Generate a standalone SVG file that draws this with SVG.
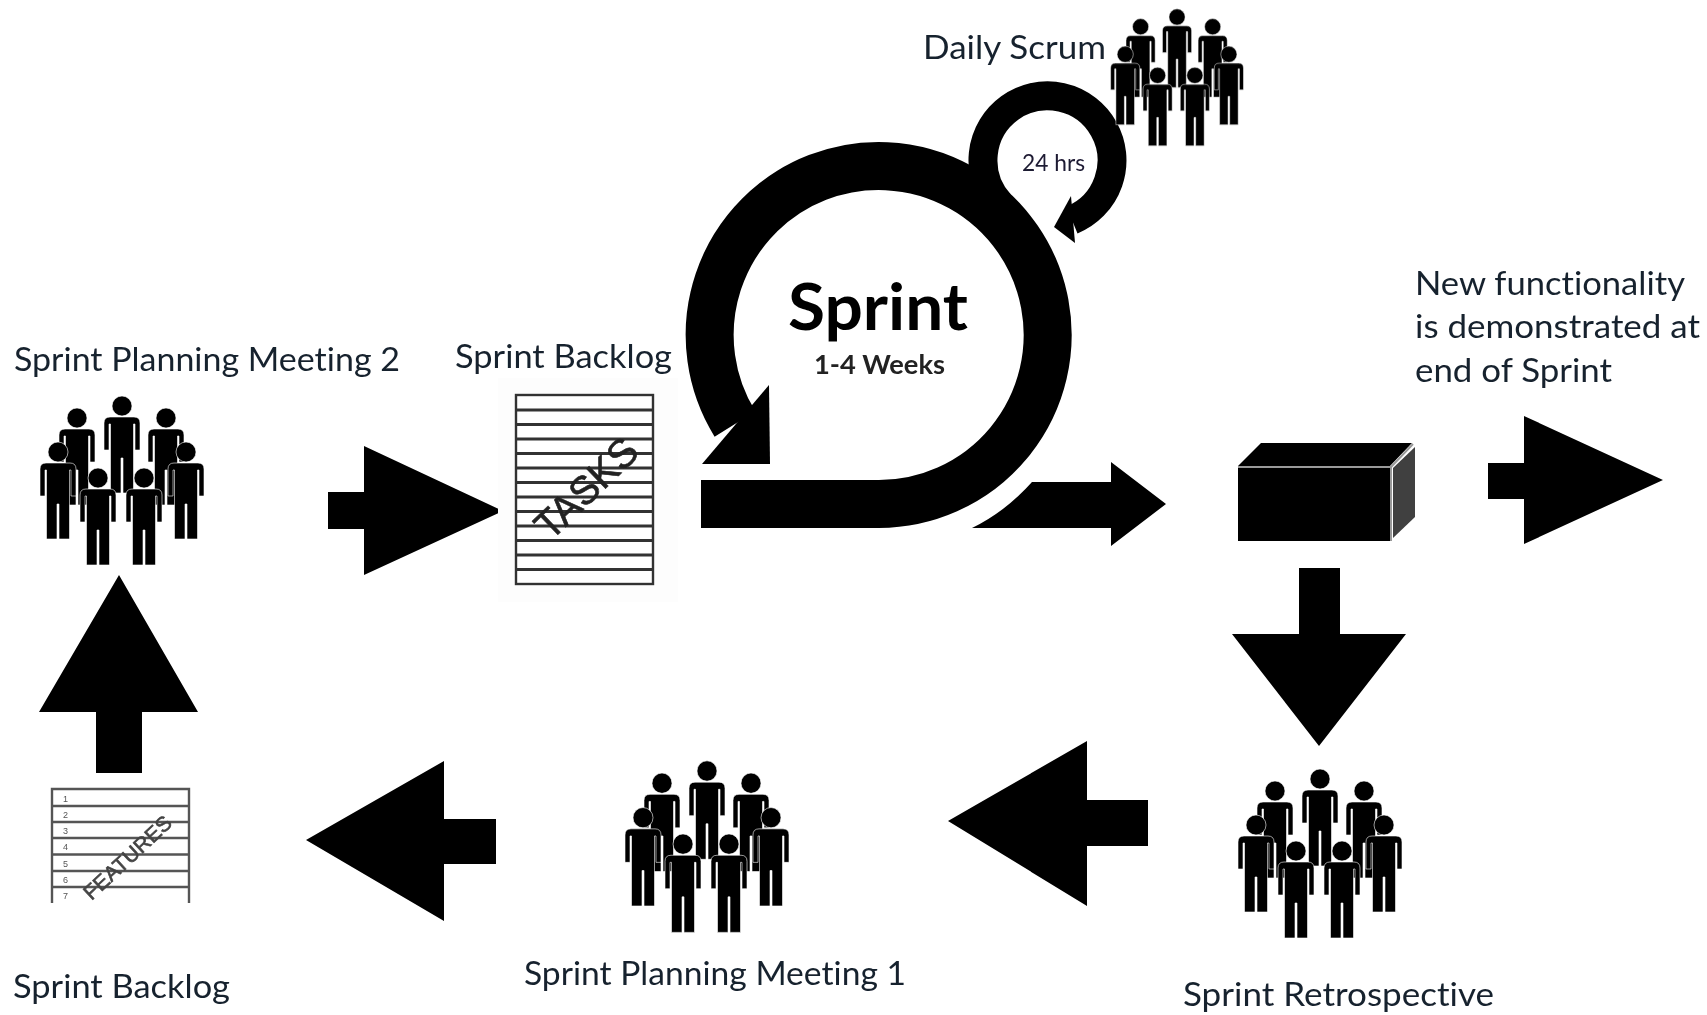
<svg xmlns="http://www.w3.org/2000/svg" xmlns:xlink="http://www.w3.org/1999/xlink" width="1707" height="1015" viewBox="0 0 1707 1015">
<style>
text{font-variant-ligatures:none}
.lbl{font-family:"Lato","Liberation Sans",sans-serif;font-size:33px;fill:#18222e}
.blk{fill:#000}
.doc{fill:#fff;stroke:#333;stroke-width:2.4}
.rule{stroke:#333;stroke-width:2.8;fill:none}
.rule2{stroke:#555;stroke-width:2.6;fill:none}
.num{font-family:"Liberation Sans",sans-serif;font-size:9px;fill:#555}
.stamp{font-family:"Liberation Sans",sans-serif;fill:#222;stroke:#222;stroke-width:0.6}
</style>
<defs>
<filter id="soft" x="0" y="0" width="100%" height="100%"><feGaussianBlur stdDeviation="0.7"/></filter>
<g id="p" fill="#000" stroke="#fff" stroke-width="0.6">
<circle r="10"/>
<path d="M-12,11 L12,11 Q18,11 18,17 L18,44 L13,44 L13,18 L11.500,18 L11.500,87 L1,87 L1,52 L-1,52 L-1,87 L-11.500,87 L-11.500,18 L-13,18 L-13,44 L-18,44 L-18,17 Q-18,11 -12,11 Z"/>
</g>
<g id="crowd">
<use xlink:href="#p" href="#p" x="-45" y="12"/>
<use xlink:href="#p" href="#p" x="44" y="12"/>
<use xlink:href="#p" href="#p" x="0" y="0"/>
<use xlink:href="#p" href="#p" x="-64" y="46"/>
<use xlink:href="#p" href="#p" x="64" y="46"/>
<use xlink:href="#p" href="#p" x="-24" y="72"/>
<use xlink:href="#p" href="#p" x="22" y="72"/>
</g>
</defs>
<rect width="1707" height="1015" fill="#fff"/>
<g filter="url(#soft)">
<g id="connectors" class="blk">
<path id="a-backlog-up" d="M96,773 V712 H39 L119,575 L198,712 H142 V773 Z"/>
<path id="a-to-tasks" d="M328,492 H364 V446 L503,511 L364,575 V529 H328 Z"/>
<path id="a-out" d="M972,528 Q1005,512 1032,482 H1111 V462 L1166,504 L1111,546 V528 Z"/>
<path id="a-demo" d="M1488,463 H1524 V416 L1663,480 L1524,544 V499 H1488 Z"/>
<path id="a-down" d="M1299,568 H1340 V634 H1406 L1319,746 L1232,634 H1299 Z"/>
<path id="a-left1" d="M1148,800 H1087 V741 L948,821 L1087,906 V846 H1148 Z"/>
<path id="a-left2" d="M496,819 H444 V761 L306,840 L444,921 V864 H496 Z"/>
</g>
<g id="sprint-loop">
<path d="M701,504 H879 A169,169 0 1 0 735,424" fill="none" stroke="#000" stroke-width="48"/>
<polygon points="769,385 770,464 702,464" fill="#000"/>
<path d="M1000,204 A64.5,64.5 0 1 1 1072,220" fill="none" stroke="#000" stroke-width="29"/>
<polygon points="1071,196 1054,227 1075,243" fill="#000"/>
<text x="788" y="330" textLength="180" lengthAdjust="spacingAndGlyphs" style="font-family:'Lato','Liberation Sans',sans-serif;font-size:65px;font-weight:700;fill:#000">Sprint</text>
<text x="814" y="374" textLength="131" lengthAdjust="spacingAndGlyphs" style="font-family:'Lato','Liberation Sans',sans-serif;font-size:26px;font-weight:700;fill:#222">1-4 Weeks</text>
<text x="1022" y="171" textLength="63" lengthAdjust="spacingAndGlyphs" style="font-family:'Lato','Liberation Sans',sans-serif;font-size:23px;fill:#1e1a33">24 hrs</text>
</g>
<g id="daily-scrum">
<use xlink:href="#crowd" href="#crowd" transform="translate(1177,17) scale(0.81)"/>
<text class="lbl" x="923" y="59" textLength="183" lengthAdjust="spacingAndGlyphs">Daily Scrum</text>
</g>
<g id="planning-2">
<use xlink:href="#crowd" href="#crowd" transform="translate(122,406)"/>
<text class="lbl" x="14" y="371" textLength="386" lengthAdjust="spacingAndGlyphs">Sprint Planning Meeting 2</text>
</g>
<g id="sprint-backlog-tasks">
<rect x="498" y="378" width="180" height="224" fill="#fdfdfd"/>
<rect class="doc" x="516" y="395" width="137" height="189"/>
<path class="rule" d="M516,410H653M516,424.500H653M516,439H653M516,453.500H653M516,468H653M516,482.500H653M516,497H653M516,511.500H653M516,526H653M516,540.500H653M516,555H653M516,569.500H653"/>
<text class="stamp" transform="translate(586,488) rotate(-44)" text-anchor="middle" y="14" font-size="40" textLength="126" lengthAdjust="spacingAndGlyphs">TASKS</text>
<text class="lbl" x="455" y="368" textLength="217" lengthAdjust="spacingAndGlyphs">Sprint Backlog</text>
</g>
<g id="increment">
<path d="M1238,466 L1261,443 H1412 L1390,466 Z" fill="#000"/>
<rect x="1238" y="468" width="152" height="73" fill="#000"/>
<path d="M1393,468 L1415,447 V517 L1393,538 Z" fill="#404040"/>
<path d="M1238,467 H1391 V541 M1391,467 L1413,444" fill="none" stroke="#999" stroke-width="2"/>
</g>
<g id="demo-note">
<text class="lbl" x="1415" y="295" textLength="270" lengthAdjust="spacingAndGlyphs">New functionality</text>
<text class="lbl" x="1415" y="338" textLength="285" lengthAdjust="spacingAndGlyphs">is demonstrated at</text>
<text class="lbl" x="1415" y="382" textLength="197" lengthAdjust="spacingAndGlyphs">end of Sprint</text>
</g>
<g id="retrospective">
<use xlink:href="#crowd" href="#crowd" transform="translate(1320,779)"/>
<text class="lbl" x="1183" y="1006" textLength="311" lengthAdjust="spacingAndGlyphs">Sprint Retrospective</text>
</g>
<g id="planning-1">
<use xlink:href="#crowd" href="#crowd" transform="translate(707,771) scale(1,1.015)"/>
<text class="lbl" x="524" y="985" textLength="382" lengthAdjust="spacingAndGlyphs">Sprint Planning Meeting 1</text>
</g>
<g id="sprint-backlog-features">
<path d="M52,903 V789 H189 V903" fill="#fff" stroke="#555" stroke-width="2.4"/>
<path class="rule2" d="M52,806H189M52,822H189M52,838H189M52,854.500H189M52,871H189M52,887H189"/>
<text class="num" x="63" y="802">1</text>
<text class="num" x="63" y="818">2</text>
<text class="num" x="63" y="834">3</text>
<text class="num" x="63" y="850">4</text>
<text class="num" x="63" y="867">5</text>
<text class="num" x="63" y="883">6</text>
<text class="num" x="63" y="899">7</text>
<text class="stamp" transform="translate(127,857) rotate(-43)" text-anchor="middle" y="8" font-size="21" textLength="112" lengthAdjust="spacingAndGlyphs" style="fill:#444;stroke:#444">FEATURES</text>
<text class="lbl" x="13" y="998" textLength="217" lengthAdjust="spacingAndGlyphs">Sprint Backlog</text>
</g>
</g>
</svg>
